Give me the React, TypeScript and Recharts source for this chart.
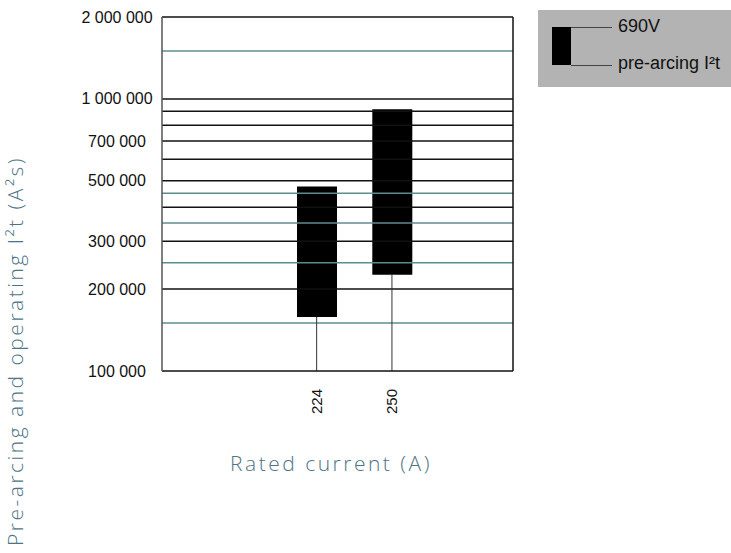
import React from "react";
import {
  ComposedChart,
  Bar,
  XAxis,
  YAxis,
  ReferenceLine,
} from "recharts";

const categories = [224, 250];
const lowValues = [158000, 226000];
const highValues = [477000, 917000];
const yTicks = [100000, 200000, 300000, 500000, 700000, 1000000, 2000000];
const blackGrid = [200000, 300000, 400000, 500000, 600000, 700000, 800000, 900000, 1000000];
const tealGrid = [150000, 250000, 350000, 450000, 1500000];
const yDomain = [100000, 2000000];
const xDomain = [170.6, 291.8];
const legendTop = "690V";
const legendBottom = "pre-arcing I²t";
const yTitle = "Pre-arcing and operating I²t (A²s)";
const xTitle = "Rated current (A)";

const data = categories.map((c, i) => ({
  current: c,
  range: [lowValues[i], highValues[i]],
  low: lowValues[i],
}));

const fmt = (v: number) => String(v).replace(/\B(?=(\d{3})+(?!\d))/g, " ");

const YTick = (props: any) => {
  const { y, payload } = props;
  return (
    <text
      x={117}
      y={y}
      dy={5.5}
      textAnchor="middle"
      fontFamily="'Liberation Sans', Arial, sans-serif"
      fontSize={16}
      fill="#111"
    >
      {fmt(payload.value)}
    </text>
  );
};

const XTick = (props: any) => {
  const { x, y, payload } = props;
  return (
    <g transform={`translate(${x + 5},${y + 10})`}>
      <text
        transform="rotate(-90)"
        textAnchor="end"
        fontFamily="'Liberation Sans', Arial, sans-serif"
        fontSize={15}
        fill="#111"
      >
        {payload.value}
      </text>
    </g>
  );
};

const LegendBox = () => (
  <svg width={193} height={77} style={{ display: "block" }}>
    <rect x={0} y={0} width={193} height={77} fill="#b3b3b3" />
    <rect x={14} y={17} width={19} height={38} fill="#000" />
    <line x1={33} y1={17.5} x2={74} y2={17.5} stroke="#444" strokeWidth={1} />
    <line x1={33} y1={55.5} x2={74} y2={55.5} stroke="#444" strokeWidth={1} />
    <text x={80} y={22} fontFamily="'Liberation Sans', Arial, sans-serif" fontSize={18} fill="#111">
      {legendTop}
    </text>
    <text x={80} y={59} fontFamily="'Liberation Sans', Arial, sans-serif" fontSize={18} fill="#111">
      {legendBottom}
    </text>
  </svg>
);

const titleStyle: React.CSSProperties = {
  position: "absolute",
  whiteSpace: "nowrap",
  fontFamily: "'Open Sans', sans-serif",
  fontWeight: 300,
  fontSize: 21,
  letterSpacing: 2.5,
  color: "#4d7486",
  lineHeight: 1,
};

export default function App() {
  return (
    <div style={{ position: "absolute", left: 0, top: 0, width: 731, height: 553, background: "#fff" }}>
      <ComposedChart
        width={731}
        height={553}
        data={data}
        margin={{ top: 17, right: 218, left: 0, bottom: 0 }}
      >
        <XAxis
          type="number"
          dataKey="current"
          domain={xDomain}
          ticks={categories}
          allowDataOverflow
          height={182}
          tick={<XTick />}
          tickLine={false}
          axisLine={{ stroke: "#111", strokeWidth: 1.5 }}
        />
        <YAxis
          scale="log"
          domain={yDomain}
          ticks={yTicks}
          allowDataOverflow
          width={162}
          tick={<YTick />}
          tickLine={false}
          axisLine={{ stroke: "#555", strokeWidth: 1.5 }}
        />
        {tealGrid.map((v) => (
          <ReferenceLine key={`t${v}`} y={v} stroke="#5f8b90" strokeWidth={1.5} />
        ))}
        {blackGrid.map((v) => (
          <ReferenceLine key={`b${v}`} y={v} stroke="#111" strokeWidth={1.5} />
        ))}
        <ReferenceLine y={yDomain[1]} stroke="#111" strokeWidth={1.5} />
        <ReferenceLine x={xDomain[1]} stroke="#111" strokeWidth={1.5} />
        {data.map((d) => (
          <ReferenceLine
            key={d.current}
            segment={[
              { x: d.current, y: yDomain[0] },
              { x: d.current, y: d.low },
            ]}
            stroke="#333"
            strokeWidth={1}
          />
        ))}
        <Bar dataKey="range" barSize={40} fill="#000" isAnimationActive={false} />
      </ComposedChart>
      <div style={{ position: "absolute", left: 538, top: 10 }}>
        <LegendBox />
      </div>
      <div style={{ ...titleStyle, left: 331, top: 463, transform: "translate(-50%, -50%)" }}>
        {xTitle}
      </div>
      <div
        style={{
          ...titleStyle,
          left: 15,
          top: 351,
          transform: "translate(-50%, -50%) rotate(-90deg)",
        }}
      >
        {yTitle}
      </div>
    </div>
  );
}
